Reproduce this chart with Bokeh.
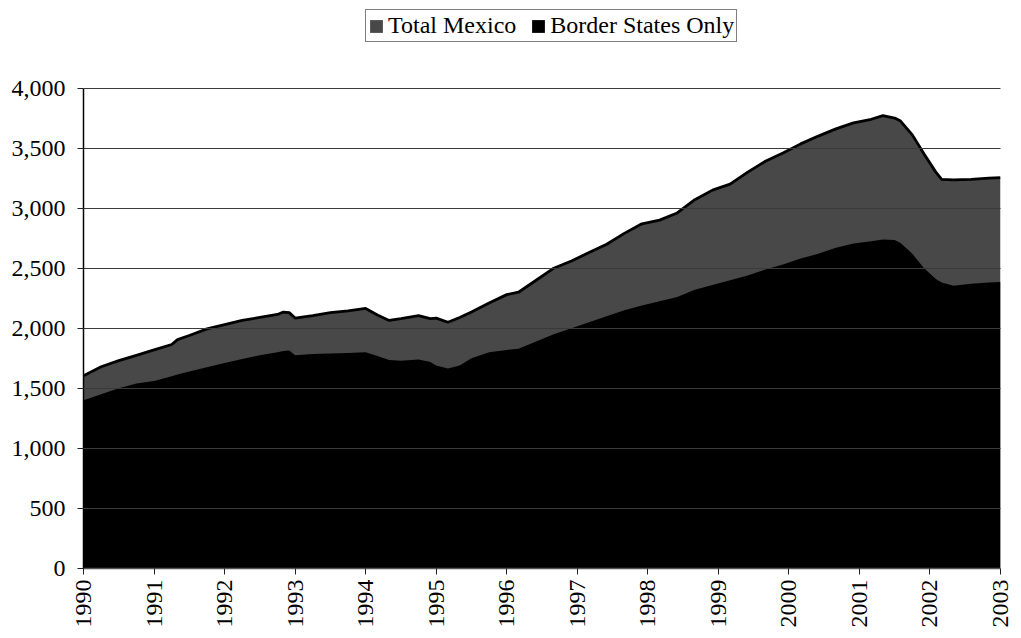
import pandas as pd
from bokeh.plotting import figure
from bokeh.models import (Range1d, FixedTicker, NumeralTickFormatter, Legend,
                          LegendItem, ColumnDataSource)
from bokeh.embed import file_html
from bokeh.resources import INLINE

# ---- data ----
months = [
    "1990-01", "1990-04", "1990-07", "1990-10",
    "1991-01", "1991-04", "1991-05", "1991-07", "1991-10",
    "1992-01", "1992-04", "1992-07", "1992-10", "1992-11", "1992-12",
    "1993-01", "1993-04", "1993-07", "1993-10",
    "1994-01", "1994-03", "1994-05", "1994-07", "1994-10", "1994-12",
    "1995-01", "1995-03", "1995-05", "1995-07", "1995-10",
    "1996-01", "1996-03", "1996-06", "1996-09", "1996-12",
    "1997-03", "1997-06", "1997-09", "1997-12",
    "1998-03", "1998-06", "1998-09", "1998-12",
    "1999-03", "1999-06", "1999-09", "1999-12",
    "2000-03", "2000-06", "2000-09", "2000-12",
    "2001-03", "2001-05", "2001-07", "2001-08", "2001-10", "2001-12",
    "2002-02", "2002-03", "2002-05", "2002-08", "2002-11", "2003-01",
]
total_mexico = [
    1605, 1680, 1730, 1775,
    1820, 1865, 1905, 1940, 1995,
    2030, 2065, 2090, 2115, 2135, 2130,
    2085, 2105, 2130, 2145,
    2165, 2110, 2065, 2080, 2105, 2080,
    2085, 2050, 2090, 2135, 2210,
    2280, 2300, 2400, 2500, 2560,
    2630, 2700, 2790, 2870,
    2900, 2960, 3070, 3150,
    3200, 3300, 3390, 3460,
    3535, 3600, 3660, 3710,
    3740, 3770, 3750, 3725, 3610, 3450,
    3300, 3240, 3235, 3240, 3250, 3255,
]
border_states = [
    1400, 1450, 1500, 1540,
    1560, 1600, 1615, 1640, 1675,
    1710, 1745, 1775, 1800, 1810, 1815,
    1775, 1785, 1790, 1795,
    1800, 1770, 1735, 1730, 1740, 1720,
    1690, 1665, 1690, 1750, 1800,
    1820, 1830, 1890, 1950, 2000,
    2050, 2100, 2150, 2190,
    2225, 2260, 2320, 2360,
    2400, 2440, 2490, 2530,
    2580, 2620, 2670, 2705,
    2725, 2740, 2735, 2710, 2620, 2500,
    2410, 2380, 2355, 2370, 2380, 2385,
]
year_ticks = list(range(1990, 2004))
year_labels = [str(y) for y in year_ticks]
value_ticks = [0, 500, 1000, 1500, 2000, 2500, 3000, 3500, 4000]

# decimal-year positions on the category axis
dates = pd.to_datetime(months, format="%Y-%m")
xpos = [d.year + (d.month - 1) / 12 for d in dates]
src = ColumnDataSource(dict(x=xpos, total=total_mexico, border=border_states))

FONT = "Liberation Serif"

# Frame spans from the top of the canvas; the y-range is extended above 4,000
# so that the legend can sit inside the frame, above the plotted area.
FRAME_TOP_PX, AXIS_TOP_PX, AXIS_BOTTOM_PX = 0, 88, 571
y_top = value_ticks[-1] * (AXIS_BOTTOM_PX - FRAME_TOP_PX) / (AXIS_BOTTOM_PX - AXIS_TOP_PX)

p = figure(width=1013, height=630, output_backend="svg", toolbar_location=None,
           x_range=Range1d(year_ticks[0], year_ticks[-1]),
           y_range=Range1d(0, y_top),
           min_border_left=83, min_border_right=13, min_border_top=0,
           min_border_bottom=59)
p.outline_line_color = None
p.background_fill_color = "white"
p.border_fill_color = "white"

r_total = p.varea(x="x", y1=0, y2="total", source=src, fill_color="#484848")
p.line(x="x", y="total", source=src, line_color="black", line_width=2.8)
r_border = p.varea(x="x", y1=0, y2="border", source=src, fill_color="black")

# grid
p.xgrid.visible = False
p.ygrid.ticker = FixedTicker(ticks=value_ticks)
p.ygrid.grid_line_color = "#3a3a3a"
p.ygrid.grid_line_width = 1
p.ygrid.level = "overlay"

# axes
p.yaxis.ticker = FixedTicker(ticks=value_ticks)
p.yaxis.bounds = (value_ticks[0], value_ticks[-1])
p.yaxis.formatter = NumeralTickFormatter(format="0,0")
p.xaxis.ticker = FixedTicker(ticks=year_ticks)
p.xaxis.major_label_overrides = {y: s for y, s in zip(year_ticks, year_labels)}
p.xaxis.major_label_orientation = 3.14159265 / 2
for ax in (p.xaxis, p.yaxis):
    ax.major_label_text_font = FONT
    ax.major_label_text_font_size = "24px"
    ax.major_label_text_color = "black"
    ax.minor_tick_line_color = None
    ax.major_tick_in = 0
    ax.major_tick_line_color = "#222222"
p.yaxis.major_tick_out = 6
p.yaxis.major_label_standoff = 12
p.yaxis.axis_line_color = "black"
p.yaxis.axis_line_width = 1.5
p.xaxis.major_tick_out = 6
p.xaxis.major_label_standoff = 5
p.xaxis.axis_line_color = "#555555"
p.xaxis.axis_line_width = 1.5

legend = Legend(items=[LegendItem(label="Total Mexico", renderers=[r_total]),
                       LegendItem(label="Border States Only", renderers=[r_border])],
                orientation="horizontal", location=(282, 526))
legend.label_text_font = FONT
legend.label_text_font_size = "24px"
legend.label_text_color = "black"
legend.glyph_width = 16
legend.glyph_height = 16
legend.label_standoff = 4
legend.spacing = 14
legend.padding = 2
legend.margin = 0
legend.border_line_color = "black"
legend.border_line_width = 1
legend.background_fill_color = "white"
legend.background_fill_alpha = 1
p.add_layout(legend)

open("out.html", "w").write(file_html(p, INLINE))
